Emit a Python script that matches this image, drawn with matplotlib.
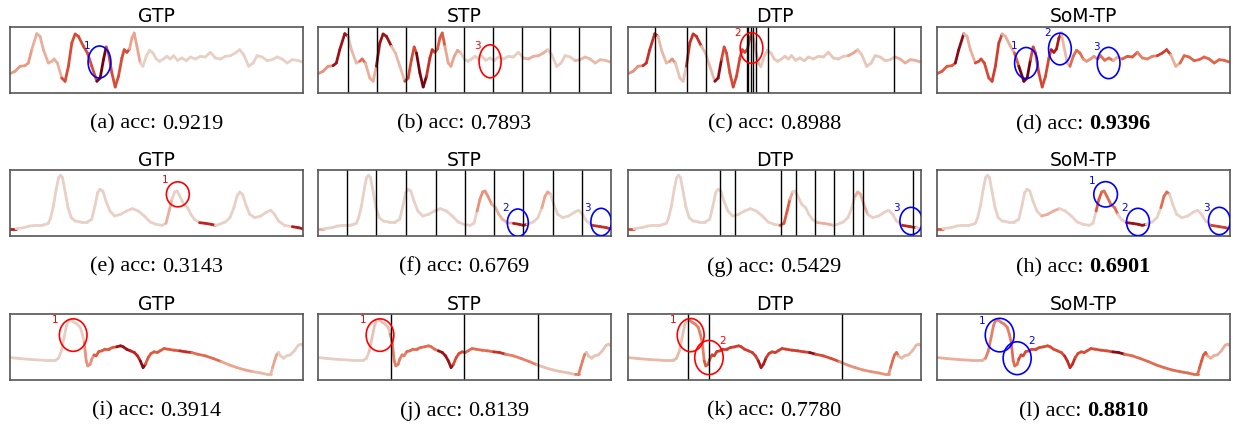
import numpy as np
import matplotlib
matplotlib.use('Agg')
import matplotlib.pyplot as plt
from matplotlib.collections import LineCollection
from matplotlib.patches import Ellipse
from matplotlib.colors import LinearSegmentedColormap
from matplotlib.offsetbox import TextArea, HPacker, AnnotationBbox

# ---------------- data ----------------
methods = ['GTP', 'STP', 'DTP', 'SoM-TP']
letters = ['a', 'b', 'c', 'd', 'e', 'f', 'g', 'h', 'i', 'j', 'k', 'l']
acc_row1 = [0.9219, 0.7893, 0.8988, 0.9396]
acc_row2 = [0.3143, 0.6769, 0.5429, 0.6901]
acc_row3 = [0.3914, 0.8139, 0.7780, 0.8810]

r1_t = [0, 5, 10, 15, 18.3, 21.7, 26.7, 30, 33.3, 38.3, 41.7, 44, 47.3, 51.7, 55,
        58.3, 61.7, 65, 68.3, 73.3, 77.3, 81.7, 86.7, 90, 93.3, 96, 98.3, 101.7, 105, 108.3,
        111.7, 114, 116.7, 119.3, 121.7, 124, 126.7, 130, 132.7, 136, 139.3, 142.7, 146, 149.3, 153.3,
        156.7, 160, 163.3, 167.3, 171.7, 176, 180, 185, 190, 195, 200, 205, 210, 215, 220,
        225, 229.3, 233.3, 238.3, 242.7, 246.7, 251.7, 256.7, 261.7, 266.7, 271.7, 276.7, 281.7, 286.7, 291.7]
r1_v = [19.3, 21.7, 26.7, 27.3, 30, 43.3, 59.3, 56.7, 43.3, 30, 31.7, 34, 30, 15, 11.7,
        26.7, 50, 59, 56.7, 46.7, 40, 26.7, 11.7, 15, 33.3, 46, 40, 20, 6, 16.7,
        35, 43.3, 40.7, 44, 55, 60, 46.7, 30, 26.7, 36.7, 42.7, 40, 34, 31.7, 34,
        36.7, 34, 37.3, 32.7, 35, 32.3, 36, 34, 36.7, 36, 40.7, 35, 34, 36.7, 37.3,
        40, 43.3, 38.3, 26.7, 30, 37.3, 36, 32.3, 33.3, 36, 34, 30, 33.3, 32.7, 31]

r2_t = [0, 15, 35, 50, 65, 80, 90, 97, 103, 110, 117, 123, 128, 133, 140, 147, 155, 165, 180, 195,
        207, 215, 222, 228, 235, 243, 253, 265, 280, 295, 310, 325, 340, 355, 370, 385, 395, 403, 410, 417,
        423, 430, 440, 450, 458, 467, 480, 495, 510, 520, 530, 545, 557, 567, 575, 582, 589, 597, 607, 620,
        635, 650, 660, 670, 680, 695, 715, 730, 740]
r2_v = [22, 22, 25, 30, 32, 32, 35, 38, 55, 90, 140, 175, 182, 175, 130, 85, 55, 45, 42, 42,
        50, 90, 130, 140, 135, 105, 75, 60, 65, 75, 82, 75, 60, 42, 35, 32, 38, 75, 110, 132,
        135, 120, 95, 85, 65, 50, 40, 38, 35, 32, 35, 42, 55, 85, 120, 132, 125, 95, 65, 55,
        60, 72, 77, 65, 45, 32, 28, 25, 22]

r3_t = [0, 25, 55, 85, 115, 123, 130, 137, 143, 148, 155, 163, 170, 178, 183, 188, 193, 197, 203, 207,
        213, 218, 225, 233, 240, 250, 260, 270, 280, 287, 295, 305, 315, 323, 330, 337, 343, 350, 357, 365,
        373, 380, 390, 400, 415, 430, 445, 460, 475, 495, 515, 535, 555, 575, 595, 615, 635, 650, 660, 665,
        670, 675, 680, 685, 693, 700, 710, 720, 730, 737, 742]
r3_v = [67, 64, 61, 59, 59, 65, 87, 127, 162, 177, 179, 172, 167, 157, 137, 112, 57, 42, 47, 62,
        75, 72, 85, 87, 92, 92, 97, 99, 102, 99, 92, 87, 82, 72, 57, 37, 47, 67, 79, 84,
        82, 87, 94, 92, 89, 87, 84, 82, 77, 72, 64, 55, 45, 37, 30, 25, 21, 17, 17, 37,
        57, 75, 82, 72, 65, 72, 75, 87, 104, 107, 102]

# importance (attribution) per panel: base level and (start, end, value) spans
imp_base = [0.13, 0.15, 0.18, 0.30,
            0.13, 0.13, 0.13, 0.13,
            0.15, 0.15, 0.25, 0.30]
imp_spans = [
    [(0, 23, 0.38), (23, 52, 0.3), (52, 85, 0.6), (85, 97, 0.95), (97, 120, 0.6), (120, 130, 0.35)],
    [(0, 15, 0.4), (15, 28.5, 0.85), (28.5, 41.7, 0.25), (41.7, 48.3, 0.5), (48.3, 58.3, 0.3),
     (58.3, 71.5, 0.85), (71.5, 88, 0.25), (88, 98, 0.6), (98, 108, 0.95), (108, 116, 0.7),
     (116, 128, 0.55), (128, 144, 0.35), (204, 230, 0.3), (257, 292.5, 0.25)],
    [(0, 15, 0.4), (15, 28.5, 0.7), (28.5, 42, 0.25), (42, 48, 0.4), (48, 58.5, 0.2), (58.5, 73.4, 0.7),
     (73.4, 85, 0.25), (85, 93.4, 0.9), (93.4, 106.6, 0.6), (106.6, 123, 0.62), (123, 132, 0.3),
     (221, 231, 0.35), (264.5, 292.5, 0.3)],
    [(0, 17, 0.55), (17, 27, 0.9), (27, 37, 0.3), (37, 56, 0.6), (56, 66, 0.65), (66, 77, 0.3),
     (77, 84, 0.55), (84, 94, 0.95), (94, 114, 0.62), (114, 124, 0.8), (124, 134, 0.25),
     (134, 147, 0.5), (147, 161, 0.4), (161, 174, 0.5), (174, 187, 0.3), (187, 201, 0.55),
     (201, 221, 0.45), (221, 232, 0.65), (232, 241, 0.3), (241, 292.5, 0.52)],
    [(0, 10, 0.8), (395, 412, 0.3), (480, 522, 0.75), (712, 742, 0.8)],
    [(0, 20, 0.3), (405, 440, 0.4), (440, 490, 0.28), (492, 527, 0.8), (565, 590, 0.35), (705, 742, 0.7)],
    [(0, 20, 0.6), (387, 407, 0.55), (407, 420, 0.35), (476, 516, 0.3), (575, 605, 0.3), (695, 735, 0.75)],
    [(0, 18, 0.55), (266, 306, 0.3), (400, 420, 0.55), (420, 460, 0.5), (484, 529, 0.85),
     (568, 593, 0.5), (702, 742, 0.65)],
    [(190, 215, 0.4), (215, 275, 0.55), (275, 305, 0.85), (305, 330, 0.75), (330, 345, 0.9),
     (345, 435, 0.55), (435, 465, 0.72), (465, 535, 0.5), (535, 615, 0.35), (615, 665, 0.25), (665, 680, 0.35)],
    [(127, 182, 0.2), (182, 222, 0.45), (222, 302, 0.5), (302, 342, 0.85), (342, 372, 0.6),
     (372, 452, 0.5), (452, 472, 0.7), (472, 552, 0.45), (552, 652, 0.22), (652, 682, 0.45), (682, 742, 0.2)],
    [(130, 154, 0.2), (154, 194, 0.45), (194, 214, 0.55), (214, 328, 0.65), (328, 347, 0.8),
     (347, 456, 0.65), (456, 471, 0.9), (471, 536, 0.6), (536, 665, 0.4), (665, 685, 0.5)],
    [(122, 186, 0.45), (186, 206, 0.5), (206, 325, 0.6), (325, 350, 0.72), (350, 444, 0.6),
     (444, 469, 0.9), (469, 663, 0.5), (663, 685, 0.55)],
]

# segment boundaries (vertical lines)
boundaries = [
    [], [30.1, 58.9, 88.1, 116.9, 145.7, 174.5, 203.3, 232.1, 260.9],
    [26.9, 58.5, 78, 118.7, 119.7, 122.7, 124.3, 127.7, 139.3, 265.4], [],
    [], [72.2, 147.4, 222.6, 297.8, 371, 445.2, 520.4, 595.6, 669.8],
    [233, 271, 387, 425, 473, 521, 569, 596, 723], [],
    [], [184, 370, 556], [150.8, 205.3, 542.6], [],
]

# highlighted regions: (cx, cy, w, h, color, label, lx, ly)
marks = [
    [(89.3, 31, 22.7, 32, 'blue', '1', 76.7, 46.7)],
    [(171.8, 31.7, 22, 33, 'red', '3', 159.6, 46.7)],
    [(123.3, 45, 22.6, 30.7, 'red', '2', 109.3, 60)],
    [(89, 30, 23, 31, 'blue', '1', 76.7, 46.7), (122.7, 44, 22.7, 31.7, 'blue', '2', 110, 60),
     (171.3, 30, 22.7, 31.3, 'blue', '3', 159.3, 46)],
    [(425, 125, 58, 75, 'red', '1', 393, 167)],
    [(506, 40, 53, 82, 'blue', '2', 474, 85), (717, 42, 52, 82, 'blue', '3', 682, 85)],
    [(717, 45, 57, 82, 'blue', '3', 681, 85)],
    [(427, 125, 60, 76, 'blue', '1', 392, 165), (509, 42, 58, 82, 'blue', '2', 476, 83),
     (715, 45, 55, 82, 'blue', '3', 683, 85)],
    [(160, 134, 70, 97, 'red', '1', 115, 179)],
    [(157, 134, 70, 97, 'red', '1', 114, 179)],
    [(158.7, 134, 68, 99, 'red', '1', 114, 179), (205, 67, 72, 102, 'red', '2', 240, 115)],
    [(158.7, 134, 73, 100, 'blue', '1', 114, 175), (203, 65, 71, 98, 'blue', '2', 239, 115)],
]

# ---------------- figure ----------------
W, H = 1233, 426
fig = plt.figure(figsize=(W / 100, H / 100), dpi=100)

cmap = LinearSegmentedColormap.from_list(
    'imp', [(0.0, '#efe3dd'), (0.15, '#e7cdc2'), (0.35, '#eba58f'), (0.55, '#df5a3e'),
            (0.75, '#c0231f'), (0.9, '#8c0a13'), (1.0, '#5e000b')])

rows = [(r1_t, r1_v, (0, 292.5), (0, 66), acc_row1),
        (r2_t, r2_v, (0, 742), (0, 198), acc_row2),
        (r3_t, r3_v, (0, 742), (0, 197), acc_row3)]
col_left = [10, 318, 628, 937]
row_top = [27, 170, 314]
ax_w, ax_h = 293, 66

serif = 'Liberation Serif'
for r, (t, v, xl, yl, accs) in enumerate(rows):
    t = np.asarray(t, float)
    v = np.asarray(v, float)
    pts = np.column_stack([t, v]).reshape(-1, 1, 2)
    segs = np.concatenate([pts[:-1], pts[1:]], axis=1)
    mids = 0.5 * (t[:-1] + t[1:])
    for c in range(4):
        k = r * 4 + c
        left = col_left[c]
        top = row_top[r]
        ax = fig.add_axes([left / W, 1 - (top + ax_h) / H, ax_w / W, ax_h / H])
        imp = np.full(len(mids), imp_base[k])
        for s, e, val in imp_spans[k]:
            imp[(mids >= s) & (mids < e)] = val
        lc = LineCollection(segs, colors=cmap(imp), linewidths=2.0, capstyle='round', joinstyle='round')
        ax.add_collection(lc)
        for b in boundaries[k]:
            ax.axvline(b, color='black', lw=1.0)
        for (cx, cy, w, h, col, lab, lx, ly) in marks[k]:
            ax.add_patch(Ellipse((cx, cy), w, h, fill=False, edgecolor=col, lw=1.2, zorder=5))
            ax.text(lx, ly, lab, color=col, fontsize=7.5, ha='center', va='center', zorder=6)
        ax.set_xlim(*xl)
        ax.set_ylim(*yl)
        ax.set_xticks([])
        ax.set_yticks([])
        for sp in ax.spines.values():
            sp.set_color('#555555')
            sp.set_linewidth(1.2)
        cx_fig = (left + ax_w / 2) / W
        fig.text(cx_fig, 1 - (top - 4.5) / H, methods[c], ha='center', va='baseline',
                 fontsize=13.5, family='DejaVu Sans')
        acc_str = '%.4f' % accs[c]
        pre = TextArea('(%s) acc:' % letters[k], textprops=dict(family=serif, size=16))
        num = TextArea(acc_str, textprops=dict(family=serif, size=16,
                                               weight='bold' if c == 3 else 'normal'))
        pack = HPacker(children=[pre, num], sep=4, pad=0, align='baseline')
        ab = AnnotationBbox(pack, (cx_fig, 1 - (top + 97) / H), xycoords='figure fraction',
                            frameon=False, box_alignment=(0.5, 0.5), pad=0)
        fig.add_artist(ab)

fig.savefig('out.png', dpi=100)
